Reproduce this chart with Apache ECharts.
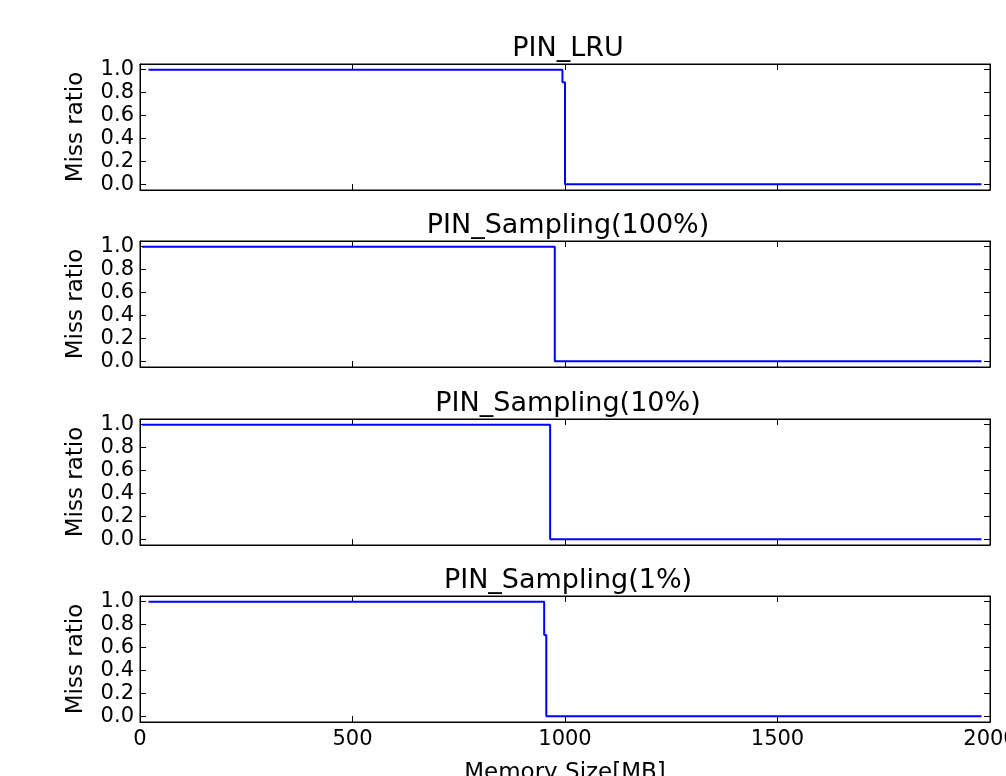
<!DOCTYPE html>
<html>
<head>
<meta charset="utf-8">
<script src="https://cdn.jsdelivr.net/npm/echarts@6/dist/echarts.min.js"></script>
<style>
html,body{margin:0;padding:0;background:#fff;}
#chart{width:1006px;height:776px;}
</style>
</head>
<body>
<div id="chart"></div>
<script>
// ---- data ----
const titles = ['PIN_LRU', 'PIN_Sampling(100%)', 'PIN_Sampling(10%)', 'PIN_Sampling(1%)'];
// step curves: x positions (MB) where the miss ratio changes, and the values held from each x
const lruX = [20, 994, 1000, 1980];
const lruY = [1.0, 0.89, 0.0, 0.0];
const s100X = [5, 976, 1980];
const s100Y = [1.0, 0.0, 0.0];
const s10X = [5, 965, 1980];
const s10Y = [1.0, 0.0, 0.0];
const s1X = [20, 951, 956, 1980];
const s1Y = [1.0, 0.71, 0.0, 0.0];
const xTicks = [0, 500, 1000, 1500, 2000];
const yTicks = [0.0, 0.2, 0.4, 0.6, 0.8, 1.0];
const xLabel = 'Memory Size[MB]';
const yLabel = 'Miss ratio';

const curves = [[lruX, lruY], [s100X, s100Y], [s10X, s10Y], [s1X, s1Y]];

const FONT = 'DejaVu Sans';
const tops = [64, 241, 419, 596];
const H = 126;
const grids = [], xAxes = [], yAxes = [], series = [], titleArr = [];

tops.forEach((t, i) => {
  grids.push({left: 140, right: 16, top: t, height: H, show: true, containLabel: false,
    outerBoundsMode: 'none',
    borderColor: '#000', borderWidth: 1, backgroundColor: 'transparent'});
  const isLast = i === tops.length - 1;
  const tickStyle = {show: true, inside: true, length: 6, lineStyle: {color: '#000', width: 1}};
  const lineStyle = {show: true, onZero: false, lineStyle: {color: '#000', width: 1}};
  xAxes.push({type: 'value', gridIndex: i, position: 'bottom', min: xTicks[0], max: xTicks[xTicks.length - 1],
    interval: 500, splitLine: {show: false}, axisLine: lineStyle,
    axisTick: tickStyle,
    axisLabel: {show: isLast, color: '#000', fontFamily: FONT, fontSize: 21, margin: 7,
      showMaxLabel: true, showMinLabel: true, hideOverlap: false, formatter: v => String(v)},
    name: isLast ? xLabel : '', nameLocation: 'middle', nameGap: 40,
    nameTextStyle: {color: '#000', fontFamily: FONT, fontSize: 23}});
  xAxes.push({type: 'value', gridIndex: i, position: 'top', min: xTicks[0], max: xTicks[xTicks.length - 1],
    interval: 500, splitLine: {show: false}, axisLine: lineStyle,
    axisTick: tickStyle, axisLabel: {show: false}});
  yAxes.push({type: 'value', gridIndex: i, position: 'left', min: -0.05, max: 1.05,
    splitLine: {show: false}, axisLine: lineStyle,
    axisTick: Object.assign({customValues: yTicks}, tickStyle),
    axisLabel: {customValues: yTicks, color: '#000', fontFamily: FONT, fontSize: 21, margin: 6,
      formatter: v => v.toFixed(1)},
    name: yLabel, nameLocation: 'middle', nameRotate: 90, nameGap: 52,
    nameTextStyle: {color: '#000', fontFamily: FONT, fontSize: 23}});
  yAxes.push({type: 'value', gridIndex: i, position: 'right', min: -0.05, max: 1.05,
    splitLine: {show: false}, axisLine: lineStyle,
    axisTick: Object.assign({customValues: yTicks}, tickStyle),
    axisLabel: {show: false}});
  const [xs, ys] = curves[i];
  series.push({type: 'line', xAxisIndex: 2 * i, yAxisIndex: 2 * i, step: 'end',
    data: xs.map((x, k) => [x, ys[k]]), showSymbol: false, symbol: 'none',
    lineStyle: {color: '#0000ff', width: 2}, animation: false});
  titleArr.push({text: titles[i], left: 563, top: t - 34, textAlign: 'center',
    textStyle: {color: '#000', fontFamily: FONT, fontSize: 27, fontWeight: 'normal'}});
});

const chart = echarts.init(document.getElementById('chart'), null, {renderer: 'canvas'});
chart.setOption({
  backgroundColor: '#fff',
  animation: false,
  title: titleArr,
  grid: grids,
  xAxis: xAxes,
  yAxis: yAxes,
  series: series
});
</script>
</body>
</html>
